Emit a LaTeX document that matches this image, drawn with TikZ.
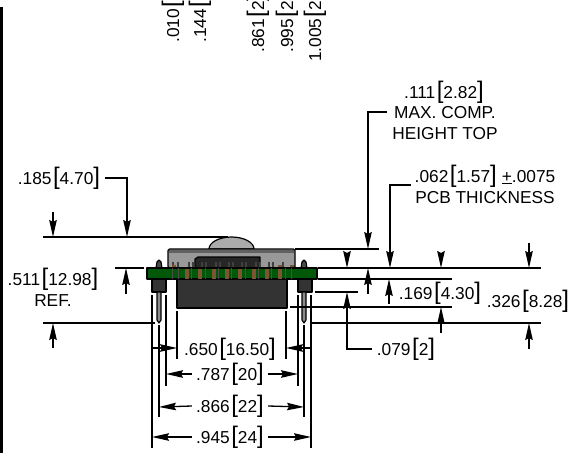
\documentclass[tikz,border=0pt]{standalone}
\usepackage{fontspec}
\setmainfont{Liberation Sans}
\usetikzlibrary{arrows.meta}

\newcommand{\brk}[1]{{\fontsize{24}{24}\selectfont #1}}
\newcommand{\dm}[2]{#1\hspace{1.5pt}\brk{[}#2\brk{]}}
\definecolor{pcbgreen}{RGB}{0,88,8}
\definecolor{padbrown}{RGB}{125,85,50}
\tikzset{
	dimtext/.style={inner sep=0pt,align=center,font=\fontsize{17.3}{21}\selectfont},
	toptext/.style={dimtext,rotate=90,anchor=west},
	dimline/.style={line width=1.3pt},
	partline/.style={draw=black,line width=1.2pt,line join=round}
}

\begin{document}
\begin{tikzpicture}[x=1pt,y=-1pt,>={Stealth[length=17pt,width=7.5pt,inset=2pt]}]
	\useasboundingbox (0,0) rectangle (571,453);
	% barra esquerda
	\fill (0,7) rectangle (2.5,453);
	% textos de cima
	\node[toptext] (d010) at (173,43) {\dm{.010}{0}};
	\node[toptext] (d144) at (200,43) {\dm{.144}{3}};
	\node[toptext] (d861) at (258,53) {\dm{.861}{2}};
	\node[toptext] (d995) at (287,53) {\dm{.995}{25}};
	\node[toptext] (d1005) at (315,62) {\dm{1.005}{25}};
	% modulo
	\draw[partline,fill=black!33] (209,249) arc[start angle=180,end angle=0,x radius=22.5,y radius=-12] -- cycle;
	\draw[partline,fill=black!40,rounded corners=1.5pt] (168,268) -- (168,249) -- (295,249) -- (295,268) -- cycle;
	\fill[black!62] (169,250) rectangle (294,253);
	\draw[partline,fill=black!85] (195,268) -- (195,259) -- (198,257) -- (260,257) -- (260,268) -- cycle;
	\fill[black!80] (177,279) rectangle (287,308);
	\draw[partline] (177,279) rectangle (287,308);
	% pinos
	\draw[partline,fill=black!80] (152,279) rectangle (166,292);
	\draw[partline,fill=black!80] (298,279) rectangle (312,292);
	\draw[partline,fill=black!45] (157,292) -- (161,292) -- (161,320) -- (159,323) -- (157,320) -- cycle;
	\draw[partline,fill=black!45] (302,292) -- (306,292) -- (306,320) -- (304,323) -- (302,320) -- cycle;
	\draw[partline,fill=black!70] (156,268) -- (157,262) -- (159,260) -- (161,262) -- (162,268) -- cycle;
	\draw[partline,fill=black!70] (301,268) -- (302,262) -- (304,260) -- (306,262) -- (307,268) -- cycle;
	% dentes do conector
	\foreach \x in {172,177,188,192,201,205,215,219,228,232,241,245,255,259,268,272,282}
		\fill[black!75] (\x,262) rectangle (\x+2,268);
	\foreach \x in {172,278,290}
		\fill[padbrown] (\x,265) rectangle (\x+4,268);
	% placa
	\draw[partline,fill=pcbgreen] (147,268) rectangle (317,279);
	\foreach \x in {172,178,191,205,218,231,245,258,271,285,291}
		\fill[black!70] (\x,268) rectangle (\x+1,279);
	\foreach \x in {185,198,212,225,238,252,265,278}
		\fill[padbrown] (\x,269) rectangle (\x+4,279);
	% linhas de extensao esquerda
	\draw[dimline] (43,237) -- (228,237);
	\draw[dimline] (115,268) -- (144,268);
	\draw[dimline] (43,323) -- (155,323);
	% linhas de extensao direita
	\draw[dimline] (295,249) -- (379,249);
	\draw[dimline] (318,268) -- (541,268);
	\draw[dimline] (318,279) -- (452,279);
	\draw[line width=1.6pt] (315,292) -- (358,292);
	\draw[dimline] (290,307) -- (452,307);
	\draw[dimline] (310,323) -- (541,323);
	% linhas de extensao de baixo
	\foreach \x/\yA/\yB in {177/311/359,286/311/359,166/295/386,298/295/386,159/325/417,304/325/417,152/295/448,311/295/448}
		\draw[dimline] (\x,\yA) -- (\x,\yB);
	% rotulos
	\node[dimtext] (d185) at (59,178) {\dm{.185}{4.70}};
	\node[dimtext] (d511) at (53,287) {\dm{.511}{12.98}\\REF.};
	\node[dimtext] (d111) at (444,92) {\dm{.111}{2.82}};
	\node[dimtext] (comp) at (445,123) {MAX. COMP.\\HEIGHT TOP};
	\node[dimtext] (d062) at (485,176) {\dm{.062}{1.57}\hspace{5pt}\underline{+}.0075};
	\node[dimtext] (pcb) at (485,198) {PCB THICKNESS};
	\node[dimtext] (d169) at (440,293) {\dm{.169}{4.30}};
	\node[dimtext] (d326) at (528,301) {\dm{.326}{8.28}};
	\node[dimtext] (d079) at (406,349) {\dm{.079}{2}};
	\node[dimtext] (d650) at (230,349) {\dm{.650}{16.50}};
	\node[dimtext] (d787) at (230,374) {\dm{.787}{20}};
	\node[dimtext] (d866) at (230,406) {\dm{.866}{22}};
	\node[dimtext] (d945) at (230,437) {\dm{.945}{24}};
	% setas com chamada
	\draw[dimline,->] (d185.east) ++(5,0) -| (127,237);
	\draw[dimline,->] (comp.west) ++(-5,-11) -| (368,249);
	\draw[dimline,->] (d062.west) ++(-4,9) -| (390,268);
	\draw[dimline,->] (d079.west) ++(-5,0) -| (347,292);
	% setas verticais
	\draw[dimline,->] (53,212) -- (53,237);
	\draw[dimline,->] (126,294) -- (126,268);
	\draw[dimline,->] (53,348) -- (53,323);
	\draw[dimline,->] (347,253) -- (347,268);
	\draw[dimline,->] (368,294) -- (368,268);
	\draw[dimline,->] (389,304) -- (389,279);
	\draw[dimline,->] (441,253) -- (441,268);
	\draw[dimline,->] (441,333) -- (441,307);
	\draw[dimline,->] (529,243) -- (529,268);
	\draw[dimline,->] (529,349) -- (529,323);
	% setas horizontais
	\draw[dimline,->] (152,348) -- (177,348);
	\draw[dimline,->] (311,348) -- (286,348);
	\draw[dimline,->] (d787.west) ++(-4,0) -- (166,374);
	\draw[dimline,->] (d787.east) ++(4,0) -- (298,374);
	\draw[dimline,->] (d866.west) ++(-4,0) -- (159,407);
	\draw[dimline,->] (d866.east) ++(4,0) -- (304,407);
	\draw[dimline,->] (d945.west) ++(-4,0) -- (152,437);
	\draw[dimline,->] (d945.east) ++(4,0) -- (311,437);
\end{tikzpicture}
\end{document}
